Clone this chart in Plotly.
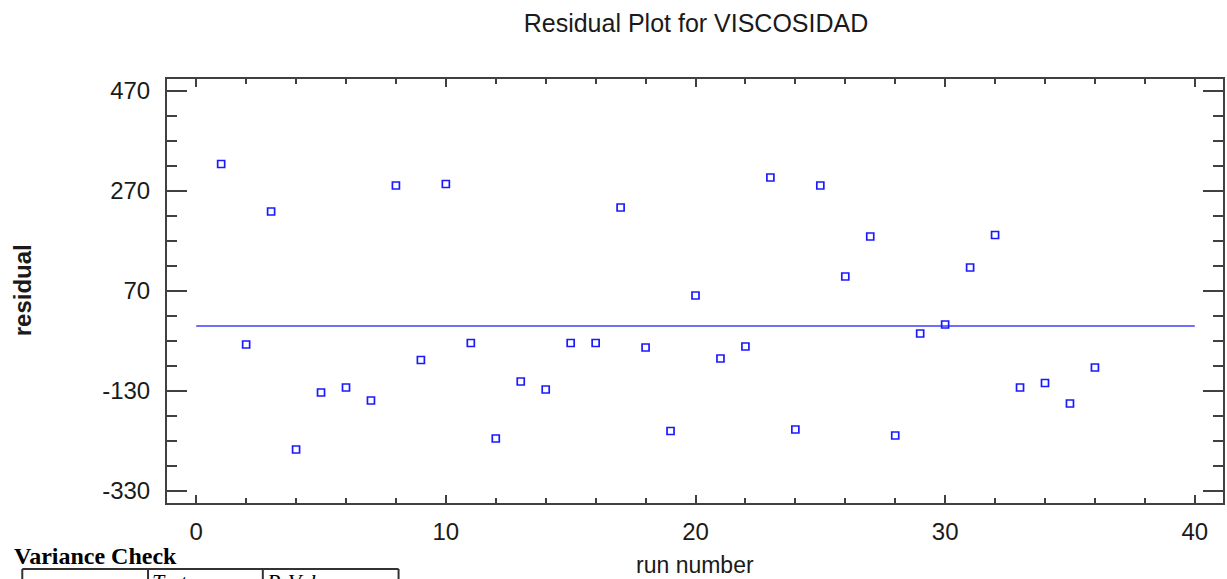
import plotly.graph_objects as go

# ---- data ----
run_number = list(range(1, 37))
residual = [324, -37, 229, -247, -133, -123, -149, 281, -68, 284,
            -34, -225, -111, -127, -34, -34, 237, -43, -210, 61,
            -65, -41, 297, -207, 281, 99, 179, -219, -15, 3,
            117, 182, -123, -114, -155, -83]
fit_x = [0, 40]
fit_y = [0, 0]
y_tick_vals = [470, 270, 70, -130, -330]
y_tick_text = ["470", "270", "70", "-130", "-330"]
x_tick_vals = [0, 10, 20, 30, 40]

W, H = 1227, 579
L, R, T, B = 167, 2, 79, 76
PW, PH = W - L - R, H - T - B


def px(xp):
    return (xp - L) / PW


def py(yp):
    return (H - B - yp) / PH


AX = "#404040"
BLUE = "#1a1aff"

fig = go.Figure()
fig.add_trace(go.Scatter(x=fit_x, y=fit_y, mode="lines",
                         line=dict(color="#3f3fff", width=1.4),
                         showlegend=False, hoverinfo="skip"))
fig.add_trace(go.Scatter(x=run_number, y=residual, mode="markers",
                         marker=dict(symbol="square-open", size=7,
                                     color=BLUE, line=dict(width=1.7, color=BLUE)),
                         showlegend=False))

font_main = "Liberation Sans, Arial, sans-serif"
font_serif = "Liberation Serif, Times New Roman, serif"

fig.update_layout(
    width=W, height=H,
    margin=dict(l=L, r=R, t=T, b=B),
    paper_bgcolor="white", plot_bgcolor="white",
    font=dict(family=font_main, color="#1a1a1a"),
    title=dict(text="Residual Plot for VISCOSIDAD", x=696 / W, xanchor="center",
               xref="container", y=1 - 23 / H, yanchor="middle", yref="container",
               font=dict(size=25, family=font_main, color="#1a1a1a")),
    xaxis=dict(range=[-1.17, 41.13], tickmode="array", tickvals=x_tick_vals,
               ticks="inside", ticklen=8, tickwidth=2, tickcolor=AX,
               minor=dict(dtick=2, tick0=0, ticks="inside", ticklen=5, tickwidth=1.5, tickcolor=AX),
               showline=True, linecolor=AX, linewidth=2, mirror="allticks",
               showgrid=False, zeroline=False,
               tickfont=dict(size=24, family=font_main, color="#1a1a1a"),
               ticklabelstandoff=6),
    yaxis=dict(range=[-354, 494], tickmode="array", tickvals=y_tick_vals,
               ticktext=y_tick_text,
               ticks="inside", ticklen=20, tickwidth=2, tickcolor=AX,
               minor=dict(dtick=50, tick0=70, ticks="inside", ticklen=10, tickwidth=2, tickcolor=AX),
               showline=True, linecolor=AX, linewidth=2, mirror="allticks",
               showgrid=False, zeroline=False,
               tickfont=dict(size=24, family=font_main, color="#1a1a1a"),
               ticklabelstandoff=10),
)

annotations = [
    dict(text="run number", x=px(696), y=py(565), xref="paper", yref="paper",
         xanchor="center", yanchor="middle", showarrow=False,
         font=dict(size=23, family=font_main, color="#1a1a1a")),
    dict(text="<b>residual</b>", x=px(22), y=py(290), xref="paper", yref="paper",
         xanchor="center", yanchor="middle", textangle=-90, showarrow=False,
         font=dict(size=24, family=font_main, color="#1a1a1a")),
    dict(text="<b>Variance Check</b>", x=px(12), y=py(556), xref="paper", yref="paper",
         xanchor="left", yanchor="middle", showarrow=False,
         font=dict(size=24, family=font_serif, color="#000")),
    dict(text="<i>Test</i>", x=px(150), y=py(567), xref="paper", yref="paper",
         xanchor="left", yanchor="top", showarrow=False,
         font=dict(size=22, family=font_serif, color="#000")),
    dict(text="<i>P-Value</i>", x=px(264), y=py(567), xref="paper", yref="paper",
         xanchor="left", yanchor="top", showarrow=False,
         font=dict(size=22, family=font_serif, color="#000")),
]
fig.update_layout(annotations=annotations)

shapes = [
    dict(type="line", xref="paper", yref="paper", x0=px(22), x1=px(399),
         y0=py(569), y1=py(569), line=dict(color="#333", width=2)),
]
for xv in [22, 148, 263, 399]:
    shapes.append(dict(type="line", xref="paper", yref="paper", x0=px(xv), x1=px(xv),
                       y0=py(569), y1=py(585), line=dict(color="#333", width=2)))
fig.update_layout(shapes=shapes)

fig.write_html("out.html")
